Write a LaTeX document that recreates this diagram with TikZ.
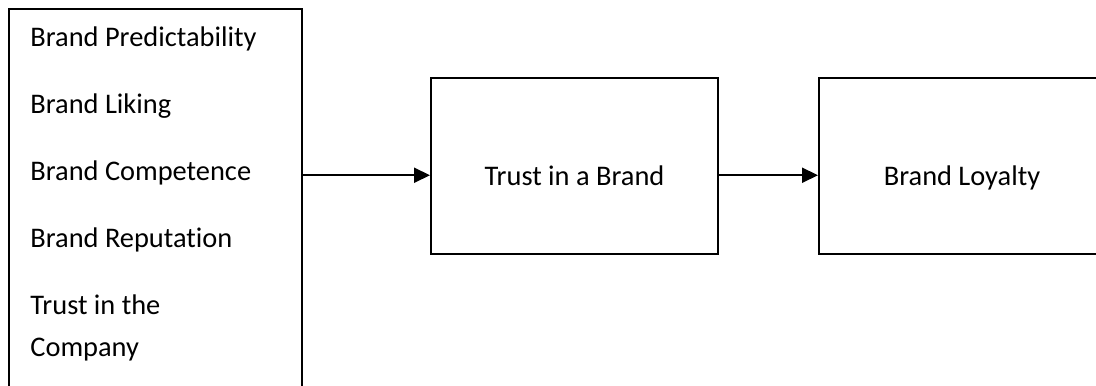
\documentclass[tikz,border=0pt]{standalone}
\usepackage{fontspec}
\setmainfont{Carlito}[Ligatures=NoCommon]
\usetikzlibrary{arrows.meta}
\begin{document}
\begin{tikzpicture}[
  x=0.5pt, y=-0.5pt,
  box/.style={draw=black, line width=1pt, inner sep=0pt},
  txt/.style={font=\fontsize{14.2}{16}\selectfont, inner sep=0pt},
  link/.style={line width=1pt, -{Triangle[length=8pt, width=7.5pt]}}
]
  \useasboundingbox (0,0) rectangle (1096,385);

  % Cuadros
  \node[box, minimum width=146.5pt, minimum height=195pt] (factors) at (155.5,204) {};
  \node[box, minimum width=143.5pt, minimum height=88pt] (trust) at (574.5,166) {};
  \node[box, minimum width=143pt, minimum height=88pt] (loyal) at (962,166) {};

  % Factores
  \foreach \name/\yy/\t in {pred/47/Brand Predictability, lik/113/Brand Liking,
      comp/180/Brand Competence, rep/247/Brand Reputation,
      tcom/314/Trust in the, tcomb/356/Company} {
    \node[txt, anchor=base west] (f\name) at (30,\yy) {\t};
  }

  % Textos
  \node[txt, anchor=base] (trusttxt) at (574.5,185) {Trust in a Brand};
  \node[txt, anchor=base] (loyaltxt) at (962,185) {Brand Loyalty};

  % Flechas
  \draw[link] (factors.east |- trusttxt) -- (trust.west |- trusttxt);
  \draw[link] (trust.east |- trusttxt) -- (loyal.west |- trusttxt);
\end{tikzpicture}
\end{document}
